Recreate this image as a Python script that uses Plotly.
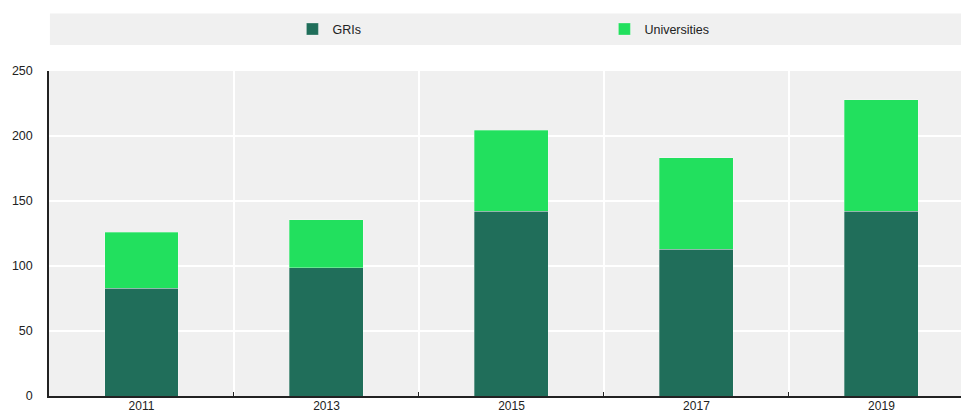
import plotly.graph_objects as go

years = ["2011", "2013", "2015", "2017", "2019"]
gris = [83, 98.5, 142, 112.8, 142]
totals = [125.9, 135.7, 204.6, 183.1, 227.7]
universities = [round(t - g, 1) for t, g in zip(totals, gris)]

col_gri = "#206E5A"
col_uni = "#22E05E"

fig = go.Figure()
fig.add_trace(go.Bar(name="GRIs", x=years, y=gris, marker_color=col_gri,
                     marker_line=dict(width=0.6, color="rgba(255,255,255,0.5)"), width=0.4))
fig.add_trace(go.Bar(name="Universities", x=years, y=universities, marker_color=col_uni,
                     marker_line=dict(width=0.6, color="rgba(255,255,255,0.5)"), width=0.4))

fig.update_layout(
    barmode="stack",
    width=961, height=414,
    margin=dict(l=49, r=0, t=71, b=18, autoexpand=False),
    paper_bgcolor="white",
    plot_bgcolor="#F0F0F0",
    font=dict(family="Liberation Sans, Arial, sans-serif", size=12, color="#222222"),
    showlegend=True,
    legend=dict(orientation="h", x=0.609, xanchor="center", y=1.128, yanchor="middle",
                bgcolor="rgba(0,0,0,0)", font=dict(size=12.5),
                entrywidth=267, entrywidthmode="pixels", traceorder="normal"),
    xaxis=dict(type="category", range=[-0.5, 4.43], tickson="boundaries", ticks="inside",
               ticklen=4, tickcolor="#222222", showgrid=True, gridcolor="white", gridwidth=1.5,
               showline=True, linecolor="#222222", linewidth=1.5, tickfont=dict(size=12),
               ticklabelstandoff=-2, fixedrange=True),
    yaxis=dict(range=[0, 250], dtick=50, showgrid=True, gridcolor="white", gridwidth=1.5,
               showline=True, linecolor="#222222", linewidth=1.5, ticks="",
               ticklabelstandoff=12, zeroline=False, tickfont=dict(size=12.5)),
    shapes=[dict(type="rect", xref="paper", yref="paper", x0=0.001, x1=1.0,
                 y0=(395.7 - 44.7) / 325, y1=(395.7 - 13.3) / 325,
                 fillcolor="#F0F0F0", line=dict(width=0), layer="below")],
)

fig.write_html("out.html", config={"displayModeBar": False},
               post_script="document.body.style.margin='0';document.body.style.overflow='hidden';")
